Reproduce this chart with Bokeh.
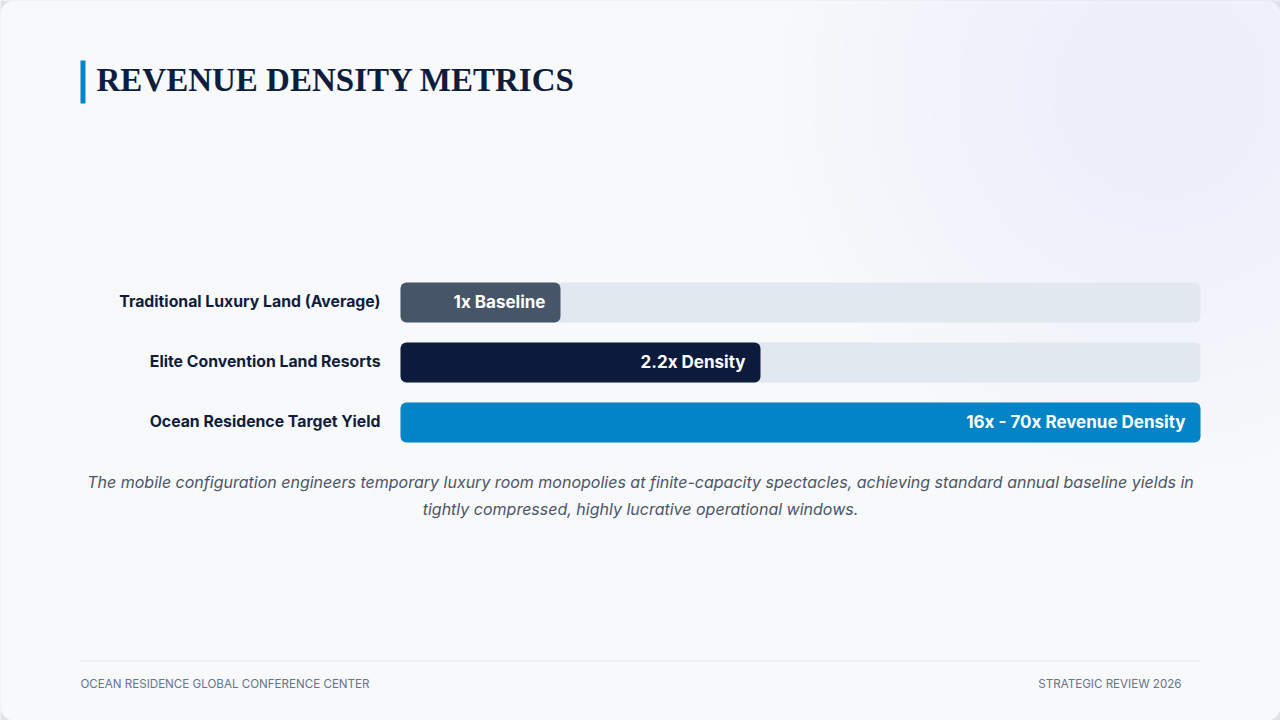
from bokeh.plotting import figure
from bokeh.models import ColumnDataSource, Label, LabelSet, Range1d
from bokeh.core.properties import value
from bokeh.embed import file_html
from bokeh.resources import INLINE

# ---- data ----
categories = ["Traditional Luxury Land (Average)", "Elite Convention Land Resorts", "Ocean Residence Target Yield"]
bar_values = [20, 45, 100]          # share of the track (percent)
bar_labels = ["1x Baseline", "2.2x Density", "16x - 70x Revenue Density"]
track_max = [100, 100, 100]

bar_colors = ["#475569", "#0c1b3c", "#0284c7"]

W, H = 1280, 720
px_per_x = 8.0      # 800 px track for 100 %
px_per_row = 60.0
x0 = -400 / px_per_x
x1 = x0 + W / px_per_x
ytop = -302 / px_per_row
ybot = ytop + H / px_per_row

p = figure(width=W, height=H, output_backend="svg", toolbar_location=None,
           x_range=Range1d(x0, x1), y_range=Range1d(ybot, ytop),
           min_border=0, min_border_left=0, min_border_right=0,
           min_border_top=0, min_border_bottom=0)
p.axis.visible = False
p.grid.visible = False
p.outline_line_color = None
p.background_fill_color = "#dfe3e8"
p.border_fill_color = "#dfe3e8"

# page card
p.quad(left=x0, right=x1, top=ytop, bottom=ybot, fill_color="#f7f9fb",
       line_color=None, border_radius=14)
# soft glow top-right
for s in range(220, 800, 60):
    p.scatter(x=[x0 + 1160 / px_per_x], y=[ytop + 90 / px_per_row], size=s,
              fill_color="#dce8f3", fill_alpha=0.04, line_color=None)

rows = list(range(len(categories)))
src = ColumnDataSource(dict(y=rows, cat=categories, val=bar_values, lab=bar_labels,
                            full=track_max, col=bar_colors))
bh = 40 / px_per_row
p.hbar(y="y", left=0, right="full", height=bh, source=src, fill_color="#e2e8f0",
       line_color=None, border_radius=6)
p.hbar(y="y", left=0, right="val", height=bh, source=src, fill_color="col",
       line_color=None, border_radius=6)

p.add_layout(LabelSet(x="val", y="y", text="lab", source=src, x_offset=-15, y_offset=1,
                      text_align="right", text_baseline="middle", text_color="white",
                      text_font=value("Inter"), text_font_style="bold",
                      text_font_size="17px"))
p.add_layout(LabelSet(x=0, y="y", text="cat", source=src, x_offset=-20, y_offset=1,
                      text_align="right", text_baseline="middle", text_color="#0f1d3d",
                      text_font=value("Inter"), text_font_style="bold",
                      text_font_size="15.8px"))

# title
p.quad(left=x0 + 80 / px_per_x, right=x0 + 85 / px_per_x,
       top=ytop + 60 / px_per_row, bottom=ytop + 103 / px_per_row,
       fill_color="#0284c7", line_color=None)
p.add_layout(Label(x=96, y=H - 79, x_units="screen", y_units="screen",
                   text="REVENUE DENSITY METRICS", text_baseline="middle",
                   text_font="Liberation Serif", text_font_style="bold",
                   text_font_size="33px", text_color="#0f1d3d"))

# caption
cap1 = "The mobile configuration engineers temporary luxury room monopolies at finite-capacity spectacles, achieving standard annual baseline yields in"
cap2 = "tightly compressed, highly lucrative operational windows."
for t, yy in [(cap1, 481), (cap2, 508)]:
    p.add_layout(Label(x=640, y=H - yy, x_units="screen", y_units="screen", text=t,
                       text_align="center", text_baseline="middle",
                       text_font="Inter", text_font_style="italic",
                       text_font_size="16px", text_color="#4b5567"))

# footer
p.segment(x0=[x0 + 80 / px_per_x], x1=[x0 + 1200 / px_per_x],
          y0=[ytop + 660.5 / px_per_row], y1=[ytop + 660.5 / px_per_row],
          line_color="#e2e8f0", line_width=1)
p.add_layout(Label(x=80, y=H - 683, x_units="screen", y_units="screen",
                   text="OCEAN RESIDENCE GLOBAL CONFERENCE CENTER", text_baseline="middle",
                   text_font="Inter", text_font_size="11.6px", text_color="#64748b"))
p.add_layout(Label(x=1181, y=H - 683, x_units="screen", y_units="screen",
                   text="STRATEGIC REVIEW 2026", text_baseline="middle", text_align="right",
                   text_font="Inter", text_font_size="11.6px", text_color="#64748b"))

open("out.html", "w").write(file_html(p, INLINE))
